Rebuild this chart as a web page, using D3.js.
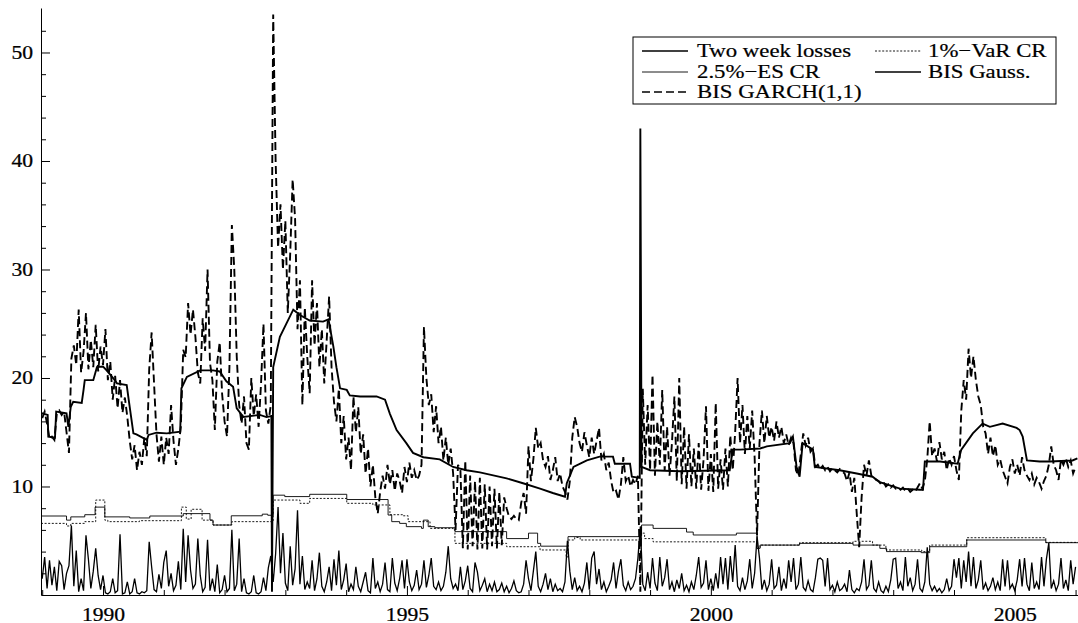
<!DOCTYPE html>
<html>
<head>
<meta charset="utf-8">
<script src="https://cdn.jsdelivr.net/npm/d3@7/dist/d3.min.js"></script>
<style>
  body { margin: 0; background: #fff; }
  svg { display: block; }
  text { font-family: "Liberation Serif", "Times New Roman", serif; fill: #000; }
</style>
</head>
<body>
<div id="chart"></div>
<script>
// ---- data ----
// noisy series are sampled on a regular time grid: year = GRID_START + i * GRID_STEP
const GRID_START = 1989.0;
const GRID_STEP = 0.04;

const lossVals = [
1.5,3.5,0.6,3.2,0.9,2.6,0.4,3.1,2.7,0.5,
2.0,2.7,6.4,0.8,4.1,0.3,1.5,0.4,5.5,3.3,
0.6,2.2,4.3,1.8,0.5,1.8,0.2,0.1,0.3,1.5,
0.2,0.4,5.6,0.1,0.2,1.2,0.1,0.3,1.5,0.2,
0.1,0.3,0.2,0.4,4.9,2.6,0.5,0.3,1.9,0.6,
3.0,4.1,0.8,2.0,0.4,0.9,3.1,0.5,6.1,1.2,
5.5,2.3,0.6,1.0,5.2,1.8,0.3,0.7,5.1,0.4,
1.5,0.3,2.8,0.2,0.5,1.8,0.3,0.6,6.0,0.4,
1.0,5.2,0.3,1.5,0.2,0.1,0.3,1.8,0.2,0.1,
0.3,1.6,0.4,2.5,3.6,1.2,3.8,8.1,2.0,5.7,
1.1,0.4,4.5,0.9,2.4,7.8,1.0,3.6,0.5,1.2,
0.6,3.2,0.4,1.5,3.9,0.8,0.3,1.2,2.6,0.4,
3.3,0.9,4.1,0.5,1.4,2.9,0.3,1.0,0.5,2.6,
0.8,0.3,1.2,2.1,0.4,0.2,3.4,0.6,1.2,0.3,
1.0,3.0,0.5,0.3,3.4,1.1,0.4,1.5,3.2,0.6,
3.3,1.2,0.4,0.9,2.3,0.5,1.0,3.2,0.7,1.8,
3.4,0.8,0.5,1.2,0.4,0.8,2.1,4.5,1.5,0.6,
1.0,0.4,2.6,0.5,1.3,2.7,0.6,0.3,3.0,2.1,
0.4,0.9,1.5,0.3,1.0,0.4,1.2,0.3,0.5,1.1,
0.3,0.8,0.2,0.6,1.3,0.4,0.2,0.3,1.0,3.2,
1.5,0.4,2.2,4.0,0.8,0.3,1.0,2.0,0.5,1.5,
0.3,1.0,0.4,0.6,0.3,1.2,5.0,2.2,0.5,1.6,
0.4,0.8,0.3,1.1,3.0,0.5,3.4,4.0,1.0,2.4,
0.5,1.2,0.3,0.8,1.4,3.0,0.6,2.2,3.3,0.9,
0.4,1.2,0.5,0.8,1.5,3.4,6.3,1.0,0.4,2.1,
0.6,3.4,1.1,0.4,3.5,0.8,1.6,3.3,0.5,1.2,
0.3,1.4,0.6,2.0,0.4,0.9,0.3,1.2,0.5,1.8,
3.5,0.7,1.1,3.2,0.5,1.5,0.4,2.0,0.6,3.5,
1.0,3.4,0.5,3.6,1.2,4.6,0.8,0.4,1.6,0.5,
1.3,3.3,0.6,2.0,5.4,3.4,0.5,1.4,0.4,1.0,
3.3,0.6,0.9,2.6,0.4,1.5,0.6,3.2,1.2,3.4,
0.5,1.0,3.5,0.7,0.4,1.3,0.5,0.3,1.6,3.3,
3.4,3.2,0.8,3.4,0.5,0.9,0.3,1.2,0.4,0.6,
1.0,0.3,2.3,0.5,0.2,0.6,0.4,1.2,3.3,0.5,
0.9,3.2,0.6,0.3,1.2,0.4,0.2,0.8,0.3,1.4,
3.3,3.4,0.6,1.2,0.4,3.5,0.8,1.6,0.4,1.0,
3.3,0.6,0.3,1.2,4.4,1.0,0.4,0.8,0.3,0.6,
0.2,0.5,1.5,0.4,0.8,3.3,1.6,3.4,0.6,3.2,
1.2,4.0,0.8,3.5,0.6,1.4,3.2,0.5,1.1,0.4,
0.8,1.6,0.5,1.2,0.4,3.3,0.8,3.2,0.6,1.0,
0.4,1.4,3.3,0.8,3.4,1.0,0.4,3.0,0.6,1.2,
0.5,3.5,0.8,3.3,4.8,0.6,1.3,0.4,1.0,3.4,
0.6,1.4,0.4,3.2,1.0,2.6];

const garchVals = [
16.3,16.9,15.8,14.4,14.6,14.3,16.7,17.0,16.6,16.9,
15.0,13.1,21.8,23.0,21.2,26.3,20.5,22.4,26.0,20.8,
23.5,21.0,24.9,20.6,22.9,21.2,24.5,19.8,21.5,18.0,
20.2,17.2,19.8,16.8,18.2,16.4,14.2,12.5,13.8,11.5,
13.2,12.0,14.5,12.8,20.8,24.2,19.5,14.8,12.3,14.6,
12.0,14.5,13.0,17.5,14.2,12.0,13.5,15.5,22.6,21.9,
26.9,24.0,26.3,23.8,20.5,19.5,25.5,22.5,30.0,21.4,
19.8,15.2,21.5,23.3,18.5,16.0,14.6,21.0,34.1,30.0,
22.0,17.5,15.8,18.3,14.0,13.4,20.0,16.5,18.5,15.5,
19.5,25.0,17.0,15.8,17.5,53.5,40.0,32.0,36.0,30.0,
34.5,26.0,31.5,38.3,34.7,24.5,29.0,17.5,26.5,22.0,
18.6,29.0,23.0,26.9,21.0,24.5,19.5,23.5,27.5,21.0,
17.8,16.0,19.0,14.0,16.5,12.5,14.5,11.5,18.3,15.0,
17.3,13.0,14.8,11.2,13.5,10.0,12.0,9.0,7.5,9.5,
11.0,9.8,12.0,10.2,11.5,9.6,11.2,10.5,9.4,11.8,
10.4,12.2,10.8,11.5,10.6,11.0,12.0,24.7,20.0,17.5,
18.5,15.0,17.4,14.0,15.5,12.4,14.5,12.0,13.5,11.2,
6.0,12.0,11.5,4.3,12.4,4.2,11.0,4.5,10.5,4.2,
10.8,4.3,10.2,4.2,10.0,4.5,9.8,4.3,9.5,4.6,
9.0,8.0,7.2,7.0,7.3,7.0,6.9,8.5,9.4,7.5,
13.7,10.5,12.5,15.4,13.5,14.0,12.4,11.8,12.8,10.6,
11.5,12.7,10.5,11.2,10.0,9.5,8.8,10.5,14.5,16.4,
15.5,14.0,13.2,15.0,13.8,12.7,14.5,13.0,14.2,15.4,
12.4,13.0,11.5,12.2,10.5,9.4,9.6,8.8,10.2,12.7,
10.5,11.0,10.0,10.6,10.2,11.0,0.3,19.0,12.0,17.5,
11.5,20.3,11.0,16.0,12.0,18.9,11.5,15.5,11.0,14.0,
18.3,10.5,20.0,10.2,15.5,9.8,14.8,10.0,13.5,9.8,
14.0,9.7,12.5,17.4,9.6,13.0,9.5,17.7,9.8,12.5,
9.7,13.5,10.0,14.7,11.5,15.0,20.0,14.0,17.5,13.0,
16.5,13.5,17.0,12.7,5.5,14.0,17.0,14.0,16.5,14.5,
15.5,14.2,16.0,14.5,15.5,14.0,14.8,13.8,14.5,14.0,
11.5,11.0,13.0,14.9,13.8,14.5,13.2,13.5,11.8,12.0,
11.6,11.9,11.5,11.8,11.4,11.7,11.5,11.3,11.6,11.4,
11.2,10.5,11.3,9.5,10.8,7.5,4.4,9.0,12.0,11.0,
12.4,11.0,10.9,10.6,10.5,10.2,10.4,10.0,10.2,9.9,
10.1,9.8,9.9,9.7,9.9,9.6,9.8,9.5,9.7,9.5,
9.9,10.3,9.8,10.5,12.5,16.0,12.8,13.5,12.3,14.1,
12.5,13.2,11.5,12.6,12.0,12.8,11.5,10.6,17.0,19.8,
18.0,22.7,20.0,22.0,19.8,18.3,17.5,15.5,14.9,13.0,
14.5,12.8,13.8,12.0,12.5,11.5,10.9,10.3,11.8,12.5,
11.2,12.0,11.0,12.7,11.5,11.0,10.6,11.2,10.2,10.8,
10.4,9.8,10.5,11.0,12.0,13.7,12.0,11.5,10.6,12.5,
12.0,12.6,11.8,12.4,11.2,11.8];

// smoother series as [year, value]
const gaussPts = [
[1988.99,16.75],[1989.09,16.6],[1989.10,14.6],[1989.21,14.5],[1989.23,16.9],[1989.40,16.75],
[1989.43,15.5],[1989.47,17.35],[1989.51,17.8],[1989.65,17.7],[1989.68,18.9],[1989.70,19.8],
[1989.84,19.8],[1989.90,21.0],[1990.00,21.05],[1990.06,20.7],[1990.17,19.97],[1990.23,19.5],
[1990.39,19.35],[1990.43,17.7],[1990.50,14.9],[1990.55,14.8],[1990.72,14.3],[1990.75,14.75],
[1990.88,14.96],[1991.05,14.9],[1991.27,15.05],[1991.29,19.05],[1991.38,20.1],[1991.60,20.7],
[1991.81,20.7],[1991.92,20.6],[1992.03,19.7],[1992.14,19.2],[1992.20,17.2],[1992.31,16.4],
[1992.58,16.6],[1992.69,16.4],[1992.77,16.5],[1992.78,0.3],[1992.80,21.0],[1992.91,23.8],
[1993.13,26.3],[1993.24,25.8],[1993.40,25.3],[1993.62,25.2],[1993.71,25.4],[1993.79,22.9],
[1993.84,21.0],[1993.90,19.05],[1994.01,18.9],[1994.06,18.4],[1994.23,18.3],[1994.50,18.3],
[1994.64,18.0],[1994.72,16.7],[1994.83,15.2],[1994.99,14.0],[1995.10,13.1],[1995.27,12.7],
[1995.54,12.5],[1995.76,11.8],[1995.98,11.5],[1996.20,11.3],[1996.64,10.75],[1996.91,10.3],
[1997.19,9.8],[1997.40,9.4],[1997.60,9.06],[1997.63,10.3],[1997.74,11.8],[1997.96,12.4],
[1998.17,12.75],[1998.39,12.75],[1998.42,12.1],[1998.67,12.1],[1998.70,10.9],[1998.83,10.8],
[1998.84,43.0],[1998.86,11.8],[1999.00,11.5],[1999.49,11.4],[2000.31,11.5],[2000.36,13.4],
[2000.48,13.4],[2000.81,13.5],[2000.92,13.7],[2001.30,14.0],[2001.35,14.6],[2001.41,11.8],
[2001.46,10.9],[2001.51,14.0],[2001.68,13.4],[2001.71,11.8],[2002.12,11.5],[2002.40,11.2],
[2002.66,10.9],[2002.78,10.4],[2003.11,9.8],[2003.44,9.7],[2003.49,9.7],[2003.52,12.3],
[2003.77,12.3],[2004.06,12.1],[2004.12,13.4],[2004.31,14.9],[2004.47,15.8],[2004.59,15.5],
[2004.80,15.8],[2005.03,15.4],[2005.08,15.2],[2005.13,14.6],[2005.20,12.4],[2005.41,12.3],
[2005.58,12.3],[2005.95,12.4],[2006.03,12.6]];

// step series (value holds until next break)
const esPts = [
[1988.98,7.28],[1989.40,6.9],[1989.47,7.2],[1989.70,7.4],[1989.87,8.1],[1990.03,7.2],
[1990.44,7.1],[1990.77,7.28],[1991.32,7.5],[1991.76,6.9],[1991.81,6.45],[1992.11,7.3],
[1992.62,7.45],[1992.71,7.35],[1992.80,9.2],[1992.99,9.07],[1993.40,9.28],[1994.01,8.8],
[1994.69,7.37],[1994.75,6.76],[1994.88,6.6],[1994.99,6.3],[1995.24,6.14],[1995.27,6.9],
[1995.35,6.3],[1995.46,6.2],[1995.79,5.84],[1996.64,5.2],[1997.00,5.7],[1997.15,4.76],
[1997.20,4.5],[1997.65,5.38],[1998.86,6.45],[1999.05,6.14],[1999.60,5.8],[1999.71,5.53],
[2000.42,5.7],[2000.76,4.3],[2000.81,4.6],[2001.46,4.76],[2002.34,4.6],[2002.78,4.3],
[2002.89,4.0],[2003.46,3.9],[2003.60,4.45],[2004.21,5.07],[2005.51,4.82],[2006.04,4.82]];

const varPts = [
[1988.98,6.6],[1989.40,6.36],[1989.47,6.6],[1989.70,6.76],[1989.88,8.75],[1990.03,6.9],
[1990.08,6.76],[1990.60,6.85],[1991.29,8.1],[1991.37,7.0],[1991.45,7.9],[1991.63,6.9],
[1991.81,6.45],[1992.12,6.76],[1992.80,8.75],[1993.24,8.45],[1993.40,8.9],[1994.01,8.45],
[1994.44,8.3],[1994.72,7.4],[1994.93,7.3],[1995.02,6.76],[1995.38,6.14],[1995.76,6.0],
[1995.79,4.76],[1996.64,4.45],[1997.19,4.15],[1997.62,3.5],[1997.65,5.07],[1997.76,5.3],
[1997.85,5.07],[1998.86,5.7],[1998.91,5.2],[1999.05,4.9],[2000.76,4.3],[2000.81,4.6],
[2001.46,4.82],[2002.34,4.95],[2002.66,4.6],[2002.88,4.15],[2003.47,4.0],[2003.60,4.6],
[2004.21,5.28],[2005.51,4.85],[2006.04,4.85]];

const yMajor = [10, 20, 30, 40, 50];
const yMinor = d3.range(2, 54, 2).filter(v => v % 10 !== 0);
const xMajor = [1990, 1995, 2000, 2005];
const xMinor = d3.range(1989, 2007).filter(v => v % 5 !== 0);

const legendItems = [
  { label: "Two week losses", key: "loss", col: 0, row: 0 },
  { label: "1%\u2212VaR CR",   key: "var",  col: 1, row: 0 },
  { label: "2.5%\u2212ES CR",  key: "es",   col: 0, row: 1 },
  { label: "BIS Gauss.",       key: "gauss", col: 1, row: 1 },
  { label: "BIS GARCH(1,1)",   key: "garch", col: 0, row: 2 }
];

// ---- styles ----
const styles = {
  loss:  { w: 1.3, dash: null },
  var:   { w: 0.9, dash: "2,1.6" },
  es:    { w: 0.9, dash: null },
  gauss: { w: 1.9, dash: null },
  garch: { w: 1.9, dash: "8,4" }
};
const STRETCH = 1.2;   // the original lettering is drawn wider than plain Times

const W = 1078, H = 623;
const mLeft = 41, mBottom = 595, mTop = 8, mRight = 1078;

const svg = d3.select("#chart").append("svg")
  .attr("width", W).attr("height", H);

const x = d3.scaleLinear().domain([1988.98, 2006.04]).range([mLeft, mRight]);
const y = d3.scaleLinear().domain([0, 54.1]).range([mBottom, mTop]);

svg.append("clipPath").attr("id", "clip")
  .append("rect").attr("x", mLeft).attr("y", 0).attr("width", mRight - mLeft).attr("height", mBottom);

const gridPts = vals => vals.map((v, i) => [GRID_START + i * GRID_STEP, v]);

const line = d3.line().x(d => x(d[0])).y(d => y(d[1]));
const stepLine = d3.line().x(d => x(d[0])).y(d => y(d[1])).curve(d3.curveStepAfter);

const plot = svg.append("g").attr("clip-path", "url(#clip)");

function draw(pts, key, gen) {
  const s = styles[key];
  plot.append("path")
    .datum(pts)
    .attr("d", gen)
    .attr("fill", "none")
    .attr("stroke", "#000")
    .attr("stroke-width", s.w)
    .attr("stroke-linejoin", "miter")
    .attr("stroke-dasharray", s.dash);
}

draw(gridPts(lossVals), "loss", line);
draw(varPts, "var", stepLine);
draw(esPts, "es", stepLine);
draw(gaussPts, "gauss", line);
draw(gridPts(garchVals), "garch", line);

// ---- axes ----
const yAxis = d3.axisLeft(y).tickValues(yMajor).tickSize(-9).tickSizeOuter(0).tickPadding(8);
const yAxisMinor = d3.axisLeft(y).tickValues(yMinor).tickSize(-5).tickFormat("");
const xAxis = d3.axisBottom(x).tickValues(xMajor).tickFormat(d3.format("d"))
  .tickSize(-9).tickSizeOuter(0).tickPadding(13);
const xAxisMinor = d3.axisBottom(x).tickValues(xMinor).tickSize(-5).tickFormat("");

const gy = svg.append("g").attr("transform", "translate(" + mLeft + ",0)").call(yAxis);
svg.append("g").attr("transform", "translate(" + mLeft + ",0)").call(yAxisMinor)
  .select(".domain").remove();
const gx = svg.append("g").attr("transform", "translate(0," + mBottom + ")").call(xAxis);
svg.append("g").attr("transform", "translate(0," + mBottom + ")").call(xAxisMinor)
  .select(".domain").remove();

svg.selectAll(".tick text").attr("font-size", 18)
  .style("font-family", "'Liberation Serif', serif")
  .attr("stroke", "#000").attr("stroke-width", 0.25);
// widen the lettering about its anchor
gy.selectAll(".tick text").attr("x", -8 / STRETCH).attr("transform", "scale(" + STRETCH + ",1)");
gx.selectAll(".tick text").attr("transform", "scale(" + STRETCH + ",1)");
svg.selectAll(".domain, .tick line").attr("stroke", "#000").attr("stroke-width", 1);

// ---- legend ----
const lg = svg.append("g");
lg.append("rect")
  .attr("x", 633).attr("y", 37).attr("width", 423).attr("height", 67)
  .attr("fill", "#fff").attr("stroke", "#000").attr("stroke-width", 1);

const colLine = [642, 875], colText = [697, 928], rowY = [51, 72, 92];
legendItems.forEach(it => {
  const s = styles[it.key];
  const yy = rowY[it.row];
  lg.append("line")
    .attr("x1", colLine[it.col]).attr("x2", colLine[it.col] + 46)
    .attr("y1", yy).attr("y2", yy)
    .attr("stroke", "#000").attr("stroke-width", Math.min(s.w, 1.4))
    .attr("stroke-dasharray", s.dash);
  lg.append("text")
    .attr("transform", "translate(" + colText[it.col] + "," + yy + ") scale(" + STRETCH + ",1)")
    .attr("dy", "0.33em")
    .attr("font-size", 19)
    .attr("stroke", "#000").attr("stroke-width", 0.2)
    .text(it.label);
});
</script>
</body>
</html>
